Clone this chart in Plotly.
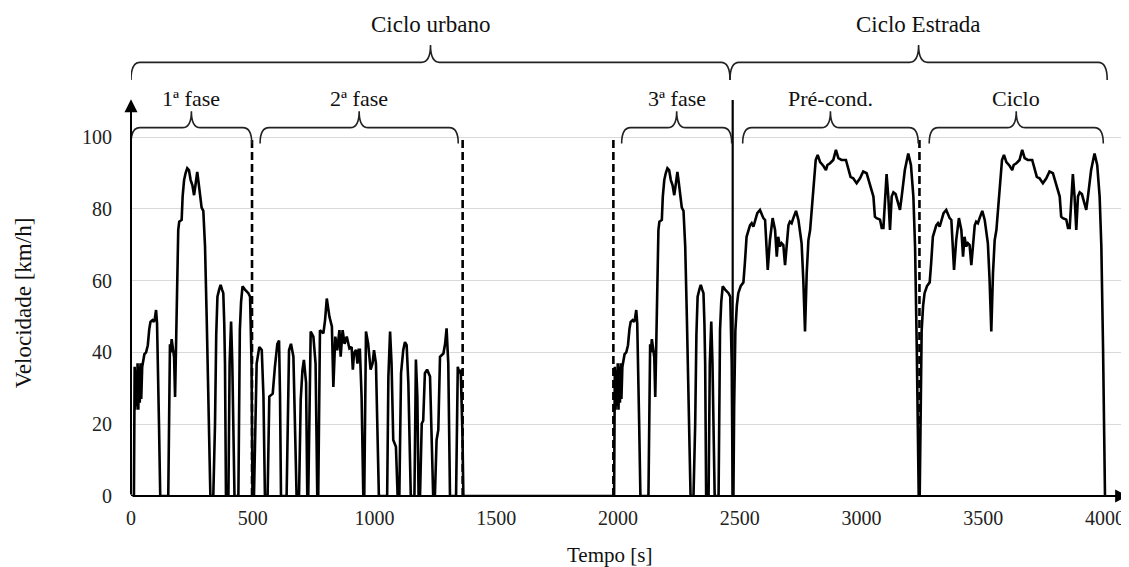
import plotly.graph_objects as go

# -----------------------------------------------------------------------------------------------
# Ciclo urbano (FTP-75) - 1a fase, tempo [s] e velocidade [km/h] (a 3a fase repete a 1a)
fase1_t = [0, 12, 15, 18, 21, 24, 27, 30, 33, 36, 39, 42, 46, 50, 55, 62, 69, 75, 80, 88, 94, 98,
           103, 107, 110, 115, 120,
           153, 160, 163, 167, 171, 177, 181, 188, 194, 198, 208, 212, 218, 224, 231, 238, 245,
           252, 259, 264, 272, 278, 283, 290, 297, 304, 311, 319, 326,
           338, 345, 350, 355, 362, 368, 374, 379, 383, 386, 390,
           400, 405, 411, 416, 425,
           441, 447, 452, 458, 468, 476, 482, 489, 495, 499]
fase1_v = [0, 0, 36, 24, 35, 25, 37, 24, 36, 26, 37, 27, 36, 38, 39.5, 40, 42, 46.5, 48.5, 49, 48.5, 49.5,
           51.8, 48, 40, 20, 0,
           0, 42.3, 40, 43.7, 41, 38.6, 27.6, 55.5, 74.1, 76.4, 76.9, 83.4, 88, 89.9, 91.3, 90.8, 88,
           86.6, 83.8, 86.2, 90.3, 87.1, 83.4, 80.3, 79.4, 69.6, 49.2, 23.1, 0,
           0, 20, 45, 55.5, 57.5, 58.8, 57.5, 56.5, 48, 36.9, 0,
           0, 36.9, 48.6, 36.9, 0,
           0, 46.2, 54, 58.4, 57.5, 57, 56.5, 55.5, 37, 0]

# 2a fase
fase2_t = [505, 516, 527, 537, 544, 550, 561, 568, 582, 591, 601, 608, 612, 616,
           639, 649, 657, 667, 680, 690, 697, 704, 710, 719, 724,
           728, 738, 749, 758, 765,
           769, 776, 790, 797, 804, 815, 825, 831, 839, 847, 856, 861, 869, 877, 886, 897,
           906, 911, 916, 924, 930, 935, 940, 947, 954,
           958, 965, 974, 984, 992, 998, 1006, 1011, 1018,
           1052, 1057, 1064, 1070, 1077, 1088, 1095,
           1102, 1109, 1118, 1125, 1132, 1139, 1149,
           1164, 1170, 1176, 1181,
           1187, 1194, 1200, 1207, 1216, 1228, 1234, 1241,
           1248, 1255, 1262, 1269, 1283, 1290, 1296, 1303, 1310,
           1335, 1342, 1348, 1354, 1361, 1365]
fase2_v = [0, 36.9, 41.5, 40.7, 27.7, 0, 0, 27.7, 28.5, 36, 42.4, 43.3, 28, 0,
           0, 40.6, 42.4, 38.8, 0, 0, 26.8, 35, 37.9, 31.5, 0,
           0, 45.8, 44.4, 36.9, 0,
           0, 46.2, 45.3, 49, 55, 49.9, 47.2, 30.4, 44.4, 40.6, 46.2, 38.8, 46.2, 42.4, 44.4, 41.1,
           41.5, 35.2, 39.8, 40.7, 36.9, 40.7, 40.7, 27.7, 0,
           0, 45.8, 42.4, 35.2, 36.9, 40.6, 36.9, 18, 0,
           0, 33.2, 45.8, 36.9, 15.6, 13.7, 0,
           0, 34.2, 40.6, 42.9, 42, 31.5, 0,
           0, 38, 27.7, 0,
           0, 20.2, 21, 34.2, 35.2, 33.3, 18, 0,
           0, 15.6, 18.4, 38.8, 39.7, 42.4, 46.7, 36.9, 0,
           0, 36, 34.2, 35.2, 18, 0]

# Ciclo estrada (HWFET), tempo relativo ao inicio [s]
estrada_t = [0, 3, 8, 14, 20, 30, 41, 47, 54, 68, 75, 82, 89, 98, 109, 116, 123, 130, 136, 141,
             150, 161, 171, 178, 184, 191, 198, 205, 212, 219, 226, 232, 239, 246, 257, 267, 273,
             280, 287, 294, 301, 308, 315, 321, 328, 338, 346, 356, 369, 380, 386, 397, 410, 421,
             431, 444, 462, 472, 481, 492, 506, 520, 533, 547, 561, 575, 581, 588, 602, 609, 616,
             622, 629, 636, 643, 650, 657, 666, 673, 684, 691, 704, 718, 729, 739, 746, 753, 761]
estrada_v = [0, 25, 46, 53, 56.5, 58.5, 59.5, 64.8, 72.2, 75.4, 76, 75, 77, 78.8, 79.7, 78.3, 77.4, 76.9, 70.4, 63,
             71.3, 77.4, 74.1, 66.7, 72.2, 69.5, 70.4, 69.9, 64.3, 71.3, 75.4, 76.4, 76, 77.4, 79.4, 76.9, 74.1,
             70.4, 60.2, 45.8, 62.1, 71.3, 74.1, 78.8, 86.2, 93.6, 95, 93, 92, 90.8, 92.2, 92.7, 93.6, 96.4,
             94.1, 93.6, 93.6, 90.8, 88.9, 88.5, 87.1, 88.5, 90.4, 89.9, 86.8, 83.4, 77.8, 77.4, 77, 74.7, 74.7,
             83.4, 89.7, 83.4, 74.1, 83.4, 84.6, 84.1, 82.2, 79.7, 83.4, 90.8, 95.4, 92.2, 83.4, 69.5, 41.2, 0]

inicio_fase3 = 1972
inicio_estrada = [2474, 3239]

divisorias = [497, 1362, 1981, 3238]
divisoria_ciclos = 2471

chavetas_grandes = [("Ciclo urbano", 0, 2460), ("Ciclo Estrada", 2460, 4009)]
chavetas_fases = [("1ª fase", 0, 496), ("2ª fase", 530, 1344), ("3ª fase", 2015, 2467),
                  ("Pré-cond.", 2512, 3233), ("Ciclo", 3278, 3993)]
# -----------------------------------------------------------------------------------------------

tempo = fase1_t + fase2_t + [t + inicio_fase3 for t in fase1_t]
veloc = fase1_v + fase2_v + fase1_v
for t0 in inicio_estrada:
    tempo += [t + t0 for t in estrada_t]
    veloc += estrada_v

FONTE = "Liberation Serif"
PX_X = 0.2435  # px por segundo
PX_Y = 3.59    # px por km/h


def chaveta(x0, x1, yb, yh, yt):
    xm = (x0 + x1) / 2
    dx = 9 / PX_X
    return (f"M {x0},{yb} Q {x0},{yh} {x0 + dx},{yh} L {xm - dx},{yh} "
            f"Q {xm},{yh} {xm},{yt} Q {xm},{yh} {xm + dx},{yh} "
            f"L {x1 - dx},{yh} Q {x1},{yh} {x1},{yb}")


fig = go.Figure()
fig.add_trace(go.Scatter(x=tempo, y=veloc, mode="lines",
                         line=dict(color="black", width=2.6), hoverinfo="skip"))

shapes = []
for d in divisorias:
    shapes.append(dict(type="line", xref="x", yref="y", x0=d, x1=d, y0=0, y1=100.3,
                       line=dict(color="black", width=2.6, dash="8px,4px"), layer="above"))
shapes.append(dict(type="line", xref="x", yref="y", x0=divisoria_ciclos, x1=divisoria_ciclos,
                   y0=0, y1=110.3, line=dict(color="black", width=2.2), layer="above"))

annotations = []
for nome, a, b in chavetas_grandes:
    shapes.append(dict(type="path", xref="x", yref="y", path=chaveta(a, b, 115.9, 120.8, 125.6),
                       line=dict(color="#222", width=1.6)))
    annotations.append(dict(x=(a + b) / 2, y=131.2, text=nome, showarrow=False,
                            font=dict(size=23, color="#111", family=FONTE)))
for nome, a, b in chavetas_fases:
    shapes.append(dict(type="path", xref="x", yref="y", path=chaveta(a, b, 98.2, 102.6, 107.2),
                       line=dict(color="#222", width=1.6)))
    annotations.append(dict(x=(a + b) / 2, y=110.8, text=nome, showarrow=False,
                            font=dict(size=22, color="#111", family=FONTE)))

# eixos com seta
annotations.append(dict(x=4095, y=0, ax=0, ay=0, axref="x", ayref="y", text="", showarrow=True,
                        arrowhead=2, arrowsize=1.3, arrowwidth=2, arrowcolor="black"))
annotations.append(dict(x=0, y=110.5, ax=0, ay=0, axref="x", ayref="y", text="", showarrow=True,
                        arrowhead=2, arrowsize=1.3, arrowwidth=2, arrowcolor="black"))

annotations.append(dict(xref="paper", yref="paper", x=0, y=0.405, xshift=-108, textangle=-90,
                        xanchor="center", yanchor="middle",
                        text="Velocidade [km/h]", showarrow=False,
                        font=dict(size=23, color="#111", family=FONTE)))
annotations.append(dict(xref="x", yref="paper", x=1967, y=0, yshift=-59, text="Tempo [s]",
                        xanchor="center", yanchor="middle",
                        showarrow=False, font=dict(size=21, color="#111", family=FONTE)))

# a pagina tem margem de 8 px, por isso a figura e 8 px menor e as margens descontam esse valor
fig.update_layout(
    width=1121, height=559,
    margin=dict(l=123, r=0, t=12, b=71),
    paper_bgcolor="white", plot_bgcolor="white",
    showlegend=False,
    shapes=shapes, annotations=annotations,
    font=dict(family=FONTE, size=20, color="#222"),
    xaxis=dict(range=[0, 998 / PX_X], tickvals=list(range(0, 4001, 500)),
               showgrid=False, zeroline=False, showline=False, ticks="",
               ticklabelstandoff=8, fixedrange=True),
    yaxis=dict(range=[0, 476 / PX_Y], tickvals=[0, 20, 40, 60, 80, 100],
               showgrid=True, gridcolor="#d9d9d9", gridwidth=1, zeroline=False,
               showline=False, ticks="", ticklabelstandoff=18, fixedrange=True),
)

fig.write_html("out.html")
